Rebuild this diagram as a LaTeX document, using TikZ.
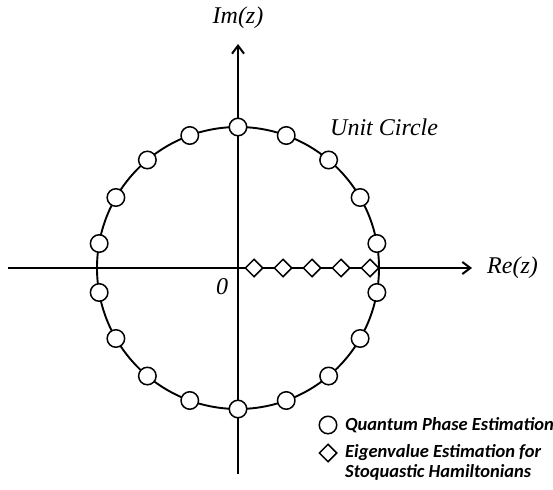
\documentclass[tikz,border=0pt]{standalone}
\usepackage{fontspec}
\setmainfont{Liberation Serif}
\newfontfamily\legendfont{Carlito}
\usetikzlibrary{arrows.meta,shapes.geometric,calc}
\begin{document}
\begin{tikzpicture}[x=1pt,y=-1pt,
  axis/.style={line width=1.9pt,-{Straight Barb[length=8pt,width=12pt,line width=2pt]}},
  qpe/.style={circle,draw,fill=white,line width=1.5pt,minimum size=17.5pt,inner sep=0pt},
  eig/.style={diamond,draw,fill=white,line width=1.5pt,minimum size=18pt,inner sep=0pt},
  lbl/.style={font=\fontsize{24}{26}\selectfont\itshape,inner sep=0pt},
  leg/.style={font=\legendfont\fontsize{18.5}{21}\selectfont\bfseries\itshape,inner sep=0pt,anchor=west,align=left}]
\useasboundingbox (0,0) rectangle (553,489);
\coordinate (O) at (238,268);
\coordinate (xl) at (8,268);
\coordinate (xr) at (472,268);
\coordinate (yb) at (238,474);
\coordinate (yt) at (238,44);
\draw[axis] (xl) -- (xr);
\draw[axis] (yb) -- (yt);
\draw[line width=1.9pt] (O) circle[radius=141pt];
\foreach \a [count=\i] in {10,30,...,350}
  \node[qpe] (c\i) at ($(O)+(\a:141pt)$) {};
\foreach \x [count=\i] in {254,283,312,341,370}
  \node[eig] (d\i) at (\x,268) {};
\node[lbl] (im) at (238,18) {Im(z)};
\node[lbl,anchor=west] (re) at (487,268) {Re(z)};
\node[lbl,anchor=west] (uc) at (330,127) {Unit Circle};
\node[lbl] (zero) at (222,287) {0};
\node[qpe] (lc) at (328,425) {};
\node[eig] (ld) at (328,453) {};
\node[leg] (lt1) at (345,425) {Quantum Phase Estimation};
\node[leg] (lt2) at (345,462) {Eigenvalue Estimation for\\[-1pt]Stoquastic Hamiltonians};
\end{tikzpicture}
\end{document}
